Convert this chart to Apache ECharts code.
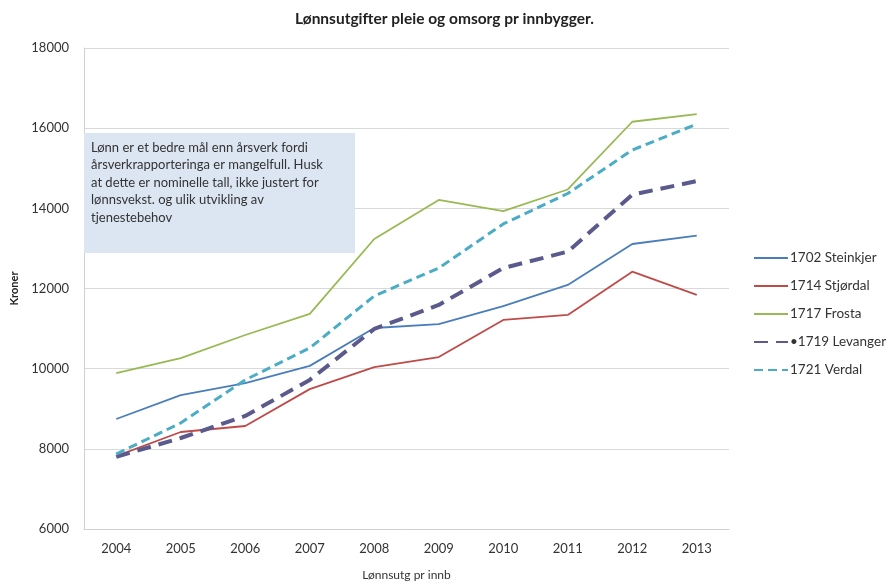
<!DOCTYPE html>
<html>
<head>
<meta charset="utf-8">
<script src="https://cdn.jsdelivr.net/npm/echarts@6/dist/echarts.min.js"></script>
<style>html,body{margin:0;padding:0;background:#fff}#c{width:889px;height:585px}</style>
</head>
<body>
<div id="c"></div>
<script>
const years = ['2004','2005','2006','2007','2008','2009','2010','2011','2012','2013'];
const steinkjer = [8745, 9340, 9640, 10070, 11015, 11110, 11560, 12090, 13110, 13320];
const stjordal  = [7820, 8420, 8570, 9490, 10040, 10290, 11215, 11340, 12420, 11840];
const frosta    = [9890, 10265, 10840, 11365, 13235, 14210, 13930, 14470, 16160, 16350];
const levanger  = [7800, 8270, 8820, 9720, 10990, 11590, 12510, 12920, 14340, 14680];
const verdal    = [7870, 8645, 9720, 10515, 11815, 12510, 13610, 14370, 15455, 16100];
const names = ['1702 Steinkjer','1714 Stjørdal','1717 Frosta','•1719 Levanger','1721 Verdal'];
const noteLines = [
  'Lønn er et bedre mål enn årsverk fordi',
  'årsverkrapporteringa er mangelfull. Husk',
  'at dette er nominelle tall, ikke justert for',
  'lønnsvekst. og ulik utvikling av',
  'tjenestebehov'
];
const FONT = 'Lato, "Open Sans", sans-serif';
const chart = echarts.init(document.getElementById('c'));
function ser(name, data, color, width, type) {
  return { name, type: 'line', data, symbol: 'none', smooth: false,
    lineStyle: { color, width, type }, itemStyle: { color }, z: 3 };
}
chart.setOption({
  animation: false,
  textStyle: { fontFamily: FONT },
  title: { text: 'Lønnsutgifter pleie og omsorg pr innbygger.', left: 'center', top: 6,
    textStyle: { fontSize: 15.5, fontWeight: 'bold', color: '#222', fontFamily: FONT } },
  grid: { left: 84, right: 160, top: 48, bottom: 56, containLabel: false, outerBoundsMode: 'none' },
  legend: { orient: 'vertical', left: 748, top: 246, itemGap: 14, itemWidth: 34, itemHeight: 14,
    itemStyle: { opacity: 0 },
    textStyle: { fontSize: 13.5, color: '#333', fontFamily: FONT, padding: [0, 0, 0, -3] },
    data: names },
  xAxis: { type: 'category', data: years, boundaryGap: true,
    name: 'Lønnsutg pr innb', nameLocation: 'middle', nameGap: 40,
    nameTextStyle: { fontSize: 12, color: '#333' },
    axisLine: { lineStyle: { color: '#d0d0d0' } }, axisTick: { show: false },
    axisLabel: { fontSize: 13, color: '#333', margin: 13 } },
  yAxis: { type: 'value', min: 6000, max: 18000, interval: 2000,
    name: 'Kroner', nameLocation: 'middle', nameGap: 64,
    nameTextStyle: { fontSize: 11, fontWeight: 'bold', color: '#222' },
    axisLine: { show: true, lineStyle: { color: '#d0d0d0' } }, axisTick: { show: false },
    axisLabel: { fontSize: 13, color: '#333', margin: 15, formatter: v => String(v) },
    splitLine: { lineStyle: { color: '#d9d9d9' } } },
  graphic: [
    { type: 'rect', left: 84, top: 133, shape: { width: 271, height: 120 },
      style: { fill: '#dce6f2' }, z: 1 },
    { type: 'text', left: 91, top: 139, z: 2,
      style: { text: noteLines.join('\n'), fontSize: 13, lineHeight: 17.5, fill: '#333', fontFamily: FONT } }
  ],
  series: [
    ser(names[0], steinkjer, '#4a7ebb', 1.8, 'solid'),
    ser(names[1], stjordal, '#be4b48', 1.8, 'solid'),
    ser(names[2], frosta, '#98b954', 1.8, 'solid'),
    ser(names[3], levanger, '#5b5a8c', 4, [14, 8]),
    ser(names[4], verdal, '#4bacc6', 3, [9, 5])
  ]
});
</script>
</body>
</html>
